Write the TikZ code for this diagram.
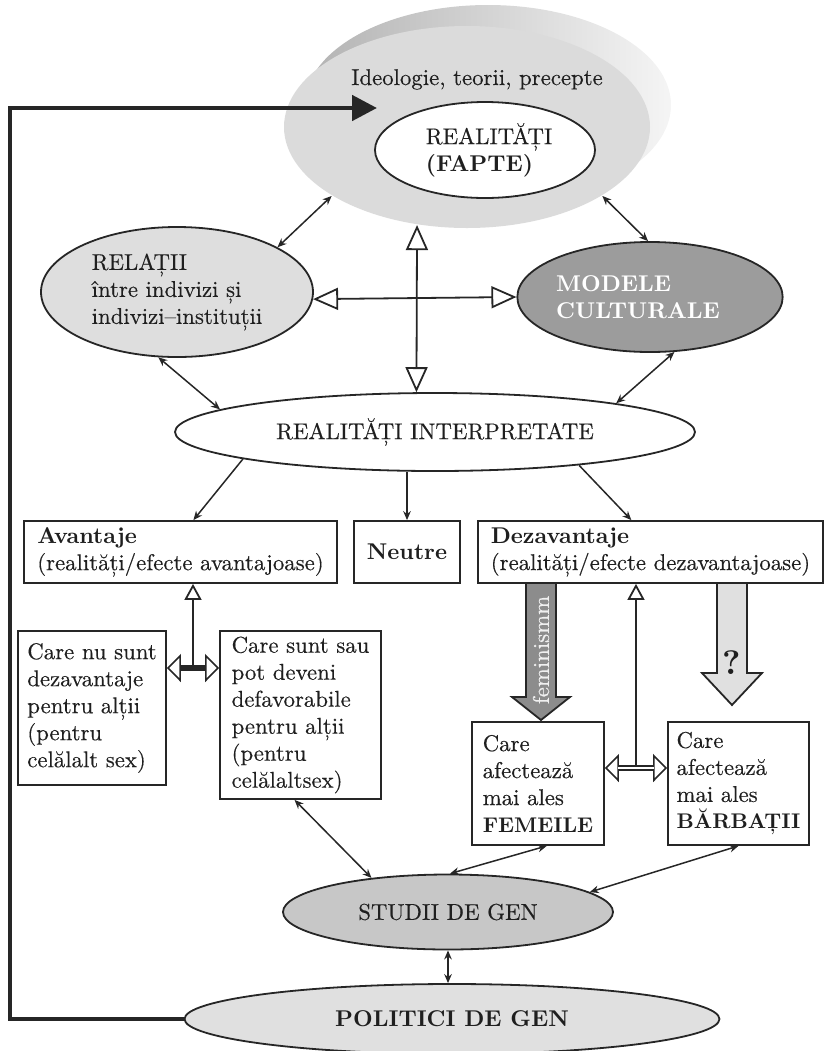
\documentclass[tikz,border=0pt]{standalone}
\usepackage{fontspec}
\setmainfont{lmroman10-regular.otf}[BoldFont=lmroman10-bold.otf, ItalicFont=lmroman10-italic.otf, BoldItalicFont=lmroman10-bolditalic.otf, UprightFeatures={FakeBold=0.35}]
\usetikzlibrary{arrows.meta,shapes.geometric,calc}
\begin{document}
\begin{tikzpicture}[x=0.5pt,y=-0.5pt,
  font=\fontsize{11.4}{13.5}\selectfont, text=black!88,
  ell/.style={ellipse, draw=black!85, line width=0.9pt, inner sep=0pt, align=left},
  box/.style={rectangle, draw=black!85, line width=0.9pt, inner sep=0pt, align=left, fill=white},
  tw/.style={draw=black!85, line width=0.75pt, {Stealth[length=4.5pt,width=3.8pt]}-{Stealth[length=4.5pt,width=3.8pt]}},
  one/.style={draw=black!85, line width=0.75pt, -{Stealth[length=4.5pt,width=3.8pt]}},
  obig/.style={draw=black!85, line width=0.9pt, {Triangle[open,length=12.5pt,width=11pt]}-{Triangle[open,length=12.5pt,width=11pt]}},
  ohor/.style={draw=black!85, line width=0.8pt, {Triangle[open,length=7pt,width=14pt]}-{Triangle[open,length=7pt,width=14pt]}},
  oup/.style={draw=black!85, line width=0.9pt, -{Triangle[open,length=8pt,width=8.5pt]}},
  shaft/.style={draw=black!85, line width=2.8pt, shorten <=6.5pt, shorten >=6.5pt},
  shaftin/.style={draw=white, line width=1.2pt, shorten <=6.5pt, shorten >=6.5pt},
  blockarr/.style={draw=black!85, line width=0.9pt}
]
\useasboundingbox (0,0) rectangle (825,1051);

% top ellipse (3D look)
\node[ell, draw=none, minimum width=183pt, minimum height=100pt, left color=black!30, right color=black!4] (topback) at (488,105) {};
\node[ell, draw=none, fill=black!14, minimum width=183pt, minimum height=101pt] (top) at (467,127) {};
\node[anchor=base] (ideo) at (477,85) {Ideologie, teorii, precepte};
\node[ell, fill=white, minimum width=110pt, minimum height=48pt] (fapte) at (485,150) {\hspace*{4pt}REALITĂȚI\\\hspace*{4pt}\textbf{(FAPTE)}};

% side ellipses
\node[ell, fill=black!13, minimum width=136pt, minimum height=65pt] (relatii) at (177,292) {RELAȚII\\între indivizi și\\indivizi–instituții};
\node[ell, fill=black!39, minimum width=128pt, minimum height=55pt, text=white, font=\fontsize{11.4}{13.5}\selectfont\bfseries] (modele) at (650,297) {MODELE\\CULTURALE\hspace*{12pt}};
\node[ell, fill=white, minimum width=260pt, minimum height=39pt] (interp) at (435,432) {REALITĂȚI INTERPRETATE};

% boxes
\node[box, minimum width=156.5pt, minimum height=31pt] (avantaje) at (180.5,552) {\textbf{Avantaje}\\(realități/efecte avantajoase)};
\node[box, minimum width=53pt, minimum height=31pt] (neutre) at (407,552) {\textbf{Neutre}};
\node[box, minimum width=172.5pt, minimum height=31pt] (dezav) at (650.5,552) {\textbf{Dezavantaje}\\(realități/efecte dezavantajoase)};
\node[box, minimum width=74pt, minimum height=77pt] (cnu) at (92,708) {Care nu sunt\\dezavantaje\\pentru alții\\(pentru\\celălalt sex)};
\node[box, minimum width=80.5pt, minimum height=84pt] (csunt) at (300.5,715) {Care sunt sau\\pot deveni\\defavorabile\\pentru alții\\(pentru\\celălaltsex)};
\node[box, minimum width=66pt, minimum height=61.5pt] (fem) at (538,783.5) {Care\\afectează\\mai ales\\{\fontsize{10.6}{13.5}\selectfont\bfseries FEMEILE}};
\node[box, minimum width=70.5pt, minimum height=61.5pt] (barb) at (738.5,783.5) {Care\\afectează\\mai ales\\{\fontsize{10.6}{13.5}\selectfont\bfseries BĂRBAȚII}};

% bottom ellipses
\node[ell, fill=black!22, minimum width=165pt, minimum height=37.5pt] (studii) at (448,912) {STUDII DE GEN};
\node[ell, fill=black!12, minimum width=267.5pt, minimum height=35pt] (politici) at (452,1019) {\textbf{POLITICI DE GEN}};

% feedback arrow
\coordinate (fbc) at (10,108);
\coordinate (fbtip) at (377,108);
\draw[draw=black!85, line width=2.4pt, -{Triangle[length=12.5pt,width=12.5pt]}] (politici.west) -| (fbc) -- (fbtip);

% connectors around the cross
\draw[tw] (top.207) -- (relatii.24);
\draw[tw] (top.333) -- (modele.92);
\draw[tw] (relatii.254) -- (interp.174);
\draw[tw] (modele.294) -- (interp.9);
\draw[obig] (interp.115) -- (top.243);
\draw[obig] (relatii.357) -- (modele.west);

% from interpreted realities
\draw[one] (interp.188) -- (avantaje.68);
\draw[one] (neutre.north |- interp.south) -- (neutre.north);
\draw[one] (interp.347) -- (dezav.121);

% advantages junction
\coordinate (j1) at (193,668);
\draw[oup] (j1) -- (j1 |- avantaje.south);
\draw[ohor] (cnu.east |- j1) -- (csunt.west |- j1);
\draw[shaft] (cnu.east |- j1) -- (csunt.west |- j1);

% disadvantages junction
\coordinate (j2) at (636,768);
\draw[ohor] (fem.east |- j2) -- (barb.west |- j2);
\draw[shaft] (fem.east |- j2) -- (barb.west |- j2);
\draw[shaftin] (fem.east |- j2) -- (barb.west |- j2);
\draw[oup] ([yshift=1.4pt]j2) -- (j2 |- dezav.south);

% block arrows
\draw[blockarr, fill=black!45] (526,583) -- (526,697) -- (512,697) -- (541,720) -- (570,697) -- (556,697) -- (556,583) -- cycle;
\node[rotate=90, text=black!6] (feminism) at (541,650) {feminismm};
\draw[blockarr, fill=black!12] (717,583) -- (717,673) -- (702,673) -- (732,705) -- (762,673) -- (747,673) -- (747,583) -- cycle;
\node (q) at (732,663) {\fontsize{17}{17}\selectfont\bfseries ?};

% bottom connectors
\draw[tw] (csunt.266) -- (studii.156);
\draw[tw] (fem.278) -- (studii.87);
\draw[tw] (barb.south) -- (studii.8);
\draw[tw] (studii.south) -- (studii.south |- politici.north);
\end{tikzpicture}
\end{document}
